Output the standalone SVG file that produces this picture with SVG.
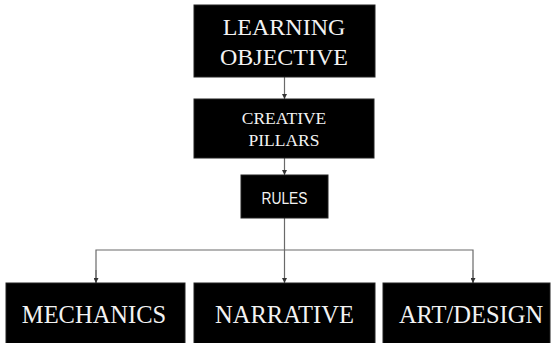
<svg xmlns="http://www.w3.org/2000/svg" width="554" height="343" viewBox="0 0 554 343">
  <style>
    .box { fill: #000; stroke: #222; stroke-width: 1; }
    .serif { font-family: "Liberation Serif", "Times New Roman", serif; fill: #f2f2f2; text-anchor: middle; }
    .sans { font-family: "Liberation Sans", Arial, sans-serif; fill: #f2f2f2; text-anchor: middle; }
    .link { fill: none; stroke: #6a6a6a; stroke-width: 1.2; }
  </style>
  <defs>
    <marker id="arrow" markerWidth="6" markerHeight="5" refX="5" refY="2.5" orient="auto" markerUnits="userSpaceOnUse">
      <path d="M0,0 L5,2.5 L0,5 Z" fill="#333"/>
    </marker>
  </defs>
  <rect width="554" height="343" fill="#fff"/>

  <g id="connectors">
    <line class="link" x1="284.5" y1="77" x2="284.5" y2="99" marker-end="url(#arrow)"/>
    <line class="link" x1="284.5" y1="158" x2="284.5" y2="175" marker-end="url(#arrow)"/>
    <line class="link" x1="284.5" y1="218" x2="284.5" y2="283" marker-end="url(#arrow)"/>
    <polyline class="link" points="96,283 96,250 473,250 473,283"/>
    <line class="link" x1="96" y1="270" x2="96" y2="283" marker-end="url(#arrow)"/>
    <line class="link" x1="473" y1="270" x2="473" y2="283" marker-end="url(#arrow)"/>
  </g>

  <g id="learning-objective">
    <rect class="box" x="194" y="5" width="181" height="72"/>
    <text class="serif" x="284" y="35" font-size="24">LEARNING</text>
    <text class="serif" x="284" y="65" font-size="24">OBJECTIVE</text>
  </g>

  <g id="creative-pillars">
    <rect class="box" x="194" y="99" width="180" height="59"/>
    <text class="serif" x="284" y="124" font-size="17.5">CREATIVE</text>
    <text class="serif" x="284" y="146" font-size="17.5">PILLARS</text>
  </g>

  <g id="rules">
    <rect class="box" x="241" y="175" width="87" height="43"/>
    <text class="sans" x="284.5" y="204" font-size="16" textLength="46" lengthAdjust="spacingAndGlyphs">RULES</text>
  </g>

  <g id="mechanics">
    <rect class="box" x="6" y="283" width="179" height="65"/>
    <text class="serif" x="94" y="323" font-size="24.5">MECHANICS</text>
  </g>

  <g id="narrative">
    <rect class="box" x="194" y="283" width="181" height="65"/>
    <text class="serif" x="284.5" y="323" font-size="24.5">NARRATIVE</text>
  </g>

  <g id="art-design">
    <rect class="box" x="383" y="283" width="167" height="65"/>
    <text class="serif" x="471" y="323" font-size="24.5">ART/DESIGN</text>
  </g>
</svg>
